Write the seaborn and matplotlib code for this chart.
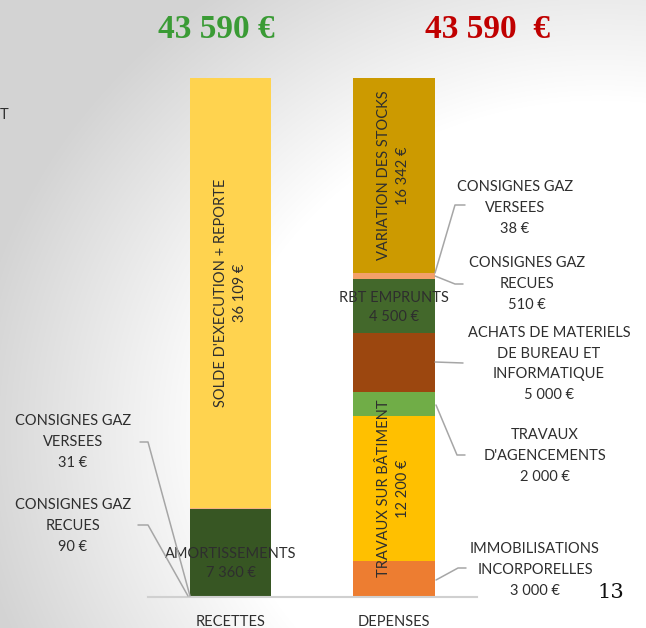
import numpy as np
import pandas as pd
import matplotlib
matplotlib.use("Agg")
import matplotlib.pyplot as plt
from matplotlib.lines import Line2D
import seaborn as sns

# ---------------- data ----------------
cats = ["RECETTES", "DEPENSES"]
rec_labels = ["AMORTISSEMENTS", "CONSIGNES GAZ\nRECUES", "CONSIGNES GAZ\nVERSEES",
              "SOLDE D'EXECUTION + REPORTE"]
rec_values = [7360, 90, 31, 36109]
dep_labels = ["IMMOBILISATIONS\nINCORPORELLES", "TRAVAUX SUR BÂTIMENT",
              "TRAVAUX\nD'AGENCEMENTS", "ACHATS DE MATERIELS\nDE BUREAU ET\nINFORMATIQUE",
              "RBT EMPRUNTS", "CONSIGNES GAZ\nRECUES", "CONSIGNES GAZ\nVERSEES",
              "VARIATION DES STOCKS"]
dep_values = [3000, 12200, 2000, 5000, 4500, 510, 38, 16342]
total_rec = "43 590 €"
total_dep = "43 590  €"
page_no = "13"

rec_colors = ["#375623", "#F4B183", "#C55A11", "#FFD34F"]
dep_colors = ["#ED7D31", "#FFC000", "#70AD47", "#9C470F", "#43682B", "#F4A06A",
              "#A5A5A5", "#CC9A00"]

W, H = 646, 628
sns.set_theme(style="white")
plt.rcParams["font.family"] = ["Lato", "DejaVu Sans"]
TXT = "#2e2e2e"
FS = 10.5
LS_OUT = 1.6
LS_IN = 1.45


def fmt(v):
    return f"{v:,}".replace(",", " ") + " €"


def px(x, y):
    return x / W, 1 - y / H


fig = plt.figure(figsize=(W / 100, H / 100), dpi=100)

# background gradient
bg = fig.add_axes([0, 0, 1, 1], zorder=-5)
yy, xx = np.mgrid[0:H, 0:W]
d = np.sqrt(((xx - 600) / 1.15) ** 2 + ((yy - 430) / 1.0) ** 2)
t = np.clip((d - 330) / 220, 0, 1)
g = 1 - 0.17 * t
img = np.dstack([g, g, g])
bg.imshow(img, extent=[0, W, H, 0], aspect="auto")
bg.set_axis_off()

# main axes
left, right, top, bottom = 148, 477, 78, 597
ax = fig.add_axes([left / W, (H - bottom) / H, (right - left) / W, (bottom - top) / H])
ax.patch.set_alpha(0)

for cat, vals, cols in [(cats[0], rec_values, rec_colors), (cats[1], dep_values, dep_colors)]:
    cum = np.cumsum(vals)
    for i in range(len(vals) - 1, -1, -1):
        df = pd.DataFrame({"cat": [cat], "val": [cum[i]]})
        sns.barplot(data=df, x="cat", y="val", order=cats, color=cols[i],
                    saturation=1, width=0.5, edgecolor="none", linewidth=0, ax=ax)

ax.set_xlim(-0.505, 1.508)
ax.set_ylim(0, sum(rec_values))
ax.set_xlabel("")
ax.set_ylabel("")
ax.set_yticks([])
for s in ["top", "left", "right"]:
    ax.spines[s].set_visible(False)
ax.spines["bottom"].set_color("#d0d0d0")
ax.spines["bottom"].set_linewidth(1.5)
ax.tick_params(axis="x", length=0, pad=13, labelsize=FS, labelcolor=TXT)

rc = np.cumsum(rec_values)
dc = np.cumsum(dep_values)

# inside labels
ax.text(0, rc[3] - rec_values[3] / 2, rec_labels[3] + "\n" + fmt(rec_values[3]),
        rotation=90, ha="center", va="center", multialignment="center",
        fontsize=FS, color=TXT, linespacing=LS_IN)
ax.text(0, rec_values[0] / 2 - 850, rec_labels[0] + "\n" + fmt(rec_values[0]),
        ha="center", va="center", multialignment="center", fontsize=FS,
        color=TXT, linespacing=LS_IN)
ax.text(1, dc[7] - dep_values[7] / 2, dep_labels[7] + "\n" + fmt(dep_values[7]),
        rotation=90, ha="center", va="center", multialignment="center",
        fontsize=FS, color=TXT, linespacing=LS_IN)
ax.text(1, dc[1] - dep_values[1] / 2, dep_labels[1] + "\n" + fmt(dep_values[1]),
        rotation=90, ha="center", va="center", multialignment="center",
        fontsize=FS, color=TXT, linespacing=LS_IN, clip_on=False)
ax.text(1, dc[4] - dep_values[4] / 2 - 150, dep_labels[4] + "\n" + fmt(dep_values[4]),
        ha="center", va="center", multialignment="center", fontsize=FS,
        color=TXT, linespacing=LS_IN)

# outside labels with leaders
outs = [
    (rec_labels[2] + "\n" + fmt(rec_values[2]), (73, 442), [(140, 442), (148, 442), (190, 596)]),
    (rec_labels[1] + "\n" + fmt(rec_values[1]), (73, 526), [(138, 525), (148, 525), (188, 596)]),
    (dep_labels[6] + "\n" + fmt(dep_values[6]), (515, 208), [(435, 273), (455, 205), (465, 205)]),
    (dep_labels[5] + "\n" + fmt(dep_values[5]), (527, 284), [(435, 276), (455, 284), (463, 284)]),
    (dep_labels[3] + "\n" + fmt(dep_values[3]), (549, 364), [(435, 362), (463, 363)]),
    (dep_labels[2] + "\n" + fmt(dep_values[2]), (545, 456), [(436, 405), (457, 455), (465, 455)]),
    (dep_labels[0] + "\n" + fmt(dep_values[0]), (535, 570), [(436, 580), (458, 568), (466, 568)]),
]
for txt, (tx, ty), pts in outs:
    fx, fy = px(tx, ty)
    fig.text(fx, fy, txt, ha="center", va="center", multialignment="center",
             fontsize=FS, color=TXT, linespacing=LS_OUT)
    xs = [p[0] / W for p in pts]
    ys = [1 - p[1] / H for p in pts]
    fig.add_artist(Line2D(xs, ys, transform=fig.transFigure, color="#a6a6a6", lw=1.1))

# totals
fx, fy = px(216, 29)
fig.text(fx, fy, total_rec, ha="center", va="center", fontsize=24, fontweight="bold",
         color="#3A9B35", family="Liberation Serif")
fx, fy = px(487, 29)
fig.text(fx, fy, total_dep, ha="center", va="center", fontsize=24, fontweight="bold",
         color="#C00000", family="Liberation Serif")

# page number and cut-off text
fx, fy = px(611, 592)
fig.text(fx, fy, page_no, ha="center", va="center", fontsize=15, color="#111111",
         family="DejaVu Serif")
fx, fy = px(0, 115)
fig.text(fx, fy, "T", ha="left", va="center", fontsize=FS, color=TXT)

fig.savefig("out.png", dpi=100)
